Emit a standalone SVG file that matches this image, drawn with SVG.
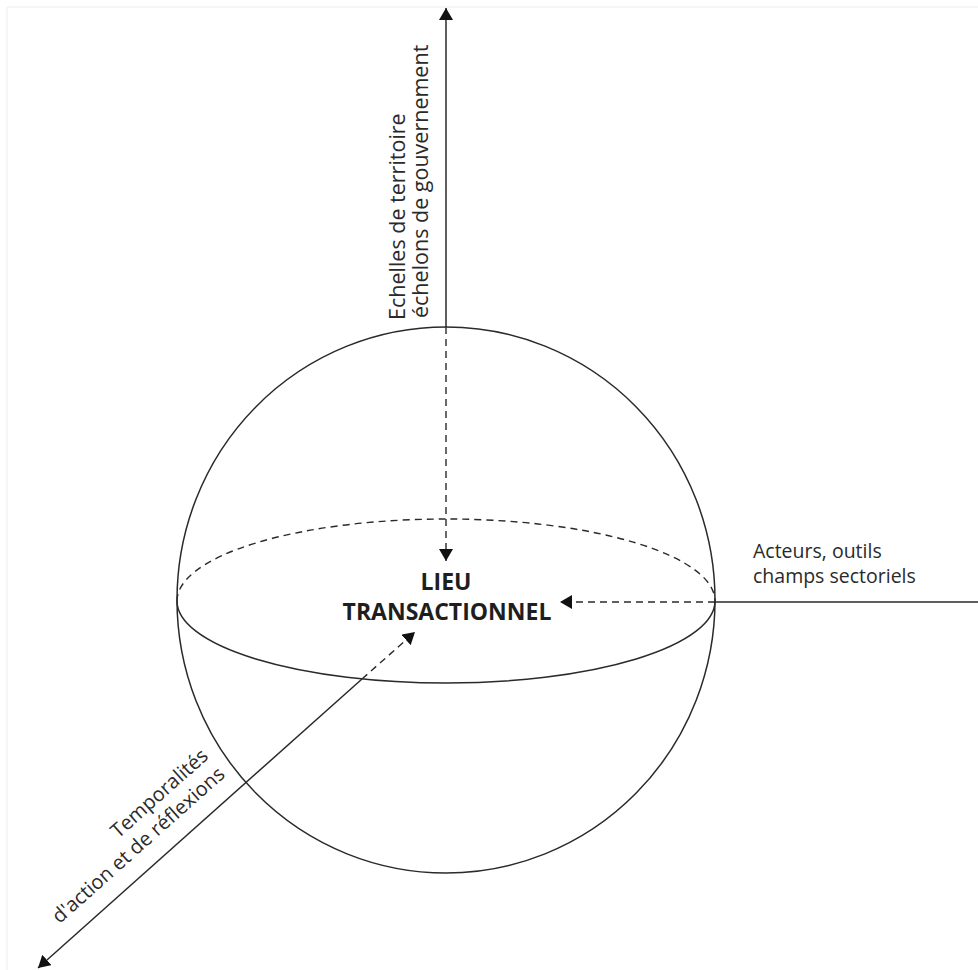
<svg xmlns="http://www.w3.org/2000/svg" width="978" height="970" viewBox="0 0 978 970">
<defs>
<style>
.ln{fill:none;stroke:#2a2a2a;stroke-width:1.5}
.dash{fill:none;stroke:#2a2a2a;stroke-width:1.4;stroke-dasharray:7 5}
.lbl{font-family:"Open Sans","Noto Sans",sans-serif;font-size:20px;fill:#2a2a2a}
.vl{font-size:21.5px}
.hl{font-size:19.5px}
.ttl{font-family:"Open Sans","Noto Sans",sans-serif;font-size:23px;font-weight:bold;fill:#1e1e1e;text-anchor:middle}
</style>
<marker id="arr" viewBox="0 0 12 14" refX="12" refY="7" markerWidth="12" markerHeight="14" markerUnits="userSpaceOnUse" orient="auto-start-reverse">
<path d="M0,0 L12,7 L0,14 Z" fill="#111"/>
</marker>
</defs>
<rect width="978" height="970" fill="#fff"/>
<path d="M7,970 V7 H978" fill="none" stroke="#ededed" stroke-width="1"/>
<g id="sphere">
<ellipse cx="446" cy="600" rx="269" ry="273" class="ln"/>
<path d="M177,601 A269,82 0 0 0 715,601" class="ln"/>
<path d="M177,601 A269,82 0 0 1 715,601" class="dash"/>
</g>
<g id="connectors">
<line x1="446" y1="327" x2="446" y2="8" class="ln" marker-end="url(#arr)"/>
<line x1="446" y1="327" x2="446" y2="561" class="dash" marker-end="url(#arr)"/>
<line x1="978" y1="602" x2="715" y2="602" class="ln"/>
<line x1="715" y1="602" x2="560" y2="602" class="dash" marker-end="url(#arr)"/>
<line x1="362" y1="679" x2="38" y2="968" class="ln" marker-end="url(#arr)"/>
<line x1="362" y1="679" x2="415" y2="632" class="dash" marker-end="url(#arr)"/>
</g>
<g id="center">
<text class="ttl" x="446" y="590">LIEU</text>
<text class="ttl" x="447" y="620">TRANSACTIONNEL</text>
</g>
<g id="label-vertical">
<text class="lbl vl" x="405" y="320" transform="rotate(-90 405 320)">Echelles de territoire</text>
<text class="lbl vl" x="428" y="318" transform="rotate(-90 428 318)">échelons de gouvernement</text>
</g>
<g id="label-horizontal">
<text class="lbl hl" x="753" y="558">Acteurs, outils</text>
<text class="lbl hl" x="753" y="583">champs sectoriels</text>
</g>
<g id="label-diagonal">
<text class="lbl" x="209.5" y="757.6" text-anchor="end" transform="rotate(-41.7 209.5 757.6)">Temporalités</text>
<text class="lbl" x="226" y="776" text-anchor="end" transform="rotate(-41.7 226 776)">d'action et de réflexions</text>
</g>
</svg>
